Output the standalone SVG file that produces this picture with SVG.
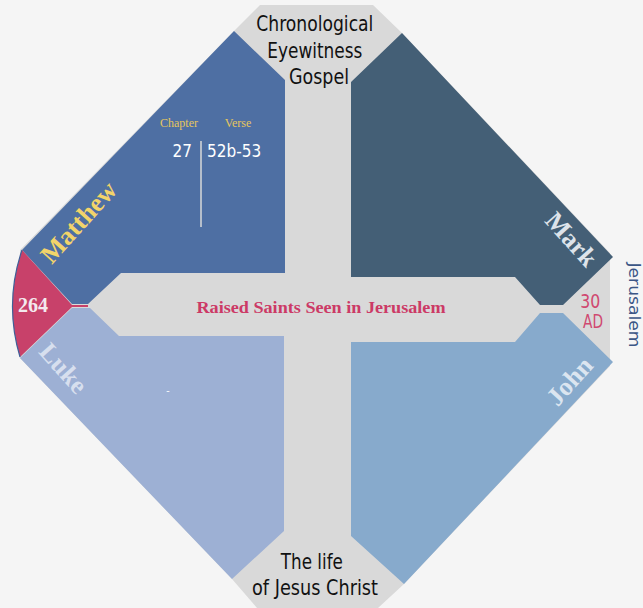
<svg xmlns="http://www.w3.org/2000/svg" width="643" height="608" viewBox="0 0 643 608">
<style>
.cond{font-family:"DejaVu Sans Condensed","DejaVu Sans",sans-serif;font-stretch:condensed}
.serif{font-family:"Liberation Serif","DejaVu Serif",serif}
.name{font-family:"Liberation Serif","DejaVu Serif",serif;font-weight:bold;font-size:26px;text-anchor:middle}
</style>
<rect width="643" height="608" fill="#f5f5f5"/>
<g id="cross">
<polygon points="260,5 373,5 402,33 610,253 610,366 404,584 378,608 257,608 232,579 20,358 20,250 234,31" fill="#d9d9d9"/>
</g>
<g id="matthew">
<polygon points="234,31 285,80 285,273 121,273 88,304 72,304 22,250" fill="#4e6fa3"/>
<text class="name" fill="#f2d46a" font-size="27" transform="translate(85,228) rotate(-48)">Matthew</text>
<text class="serif" x="179" y="127" font-size="12" fill="#e6c65e" text-anchor="middle">Chapter</text>
<text class="serif" x="238" y="127" font-size="12" fill="#e6c65e" text-anchor="middle">Verse</text>
<text class="cond" x="192" y="157" font-size="17" fill="#ffffff" text-anchor="end">27</text>
<text class="cond" x="207" y="157" font-size="17" fill="#ffffff">52b-53</text>
<line x1="201" y1="141" x2="201" y2="227" stroke="#d8d8d8" stroke-width="1.5"/>
</g>
<g id="mark">
<polygon points="402,33 351,82 351,277 515,277 540,305 563,305 613,257" fill="#445f76"/>
<text class="name" fill="#dde3ea" transform="translate(565,245) rotate(48)">Mark</text>
</g>
<g id="luke">
<polygon points="20,358 72,308 90,308 119,336 284,336 284,531 232,579" fill="#9db0d4"/>
<text class="name" fill="#d7dfee" transform="translate(57,374) rotate(48)">Luke</text>
<text class="serif" x="168" y="394" font-size="10" fill="#ffffff" text-anchor="middle">-</text>
</g>
<g id="john">
<polygon points="540,313 563,313 613,362 404,584 351,536 351,342 515,342" fill="#87aacc"/>
<text class="name" fill="#dbe5f0" transform="translate(576,387) rotate(-48)">John</text>
</g>
<g id="count">
<path d="M22,250 L72,305 L88,305 L88,307 L72,307 L20,357 Q4,303 22,250 Z" fill="#c8416a"/>
<path d="M20,357 Q4,303 22,250" fill="none" stroke="#3f5f98" stroke-width="1.2"/>
<text class="serif" x="33" y="312" font-size="20" font-weight="bold" fill="#f3e9ee" text-anchor="middle">264</text>
</g>
<g id="top-label">
<text class="cond" font-size="22" fill="#111" text-anchor="middle">
<tspan x="318" y="31" textLength="117" lengthAdjust="spacingAndGlyphs">Chronological</tspan>
<tspan x="318" y="58" textLength="95" lengthAdjust="spacingAndGlyphs">Eyewitness</tspan>
<tspan x="319" y="84" textLength="60" lengthAdjust="spacingAndGlyphs">Gospel</tspan>
</text>
</g>
<g id="bottom-label">
<text class="cond" font-size="22" fill="#111" text-anchor="middle">
<tspan x="315" y="569" textLength="62" lengthAdjust="spacingAndGlyphs">The life</tspan>
<tspan x="315" y="595" textLength="126" lengthAdjust="spacingAndGlyphs">of Jesus Christ</tspan>
</text>
</g>
<g id="event">
<text class="serif" x="321" y="313" font-size="16" font-weight="bold" fill="#cc3a66" text-anchor="middle" textLength="249" lengthAdjust="spacingAndGlyphs">Raised Saints Seen in Jerusalem</text>
</g>
<g id="date">
<text class="cond" font-size="19" fill="#d04870" text-anchor="middle">
<tspan x="593" y="308" textLength="20" lengthAdjust="spacingAndGlyphs">30</tspan>
<tspan x="593" y="328" textLength="20" lengthAdjust="spacingAndGlyphs">AD</tspan>
</text>
</g>
<g id="place">
<text class="cond" font-size="15" fill="#3b5686" text-anchor="middle" transform="translate(629,305) rotate(90)" textLength="85" lengthAdjust="spacingAndGlyphs">Jerusalem</text>
</g>
<g id="connectors"></g>
</svg>
